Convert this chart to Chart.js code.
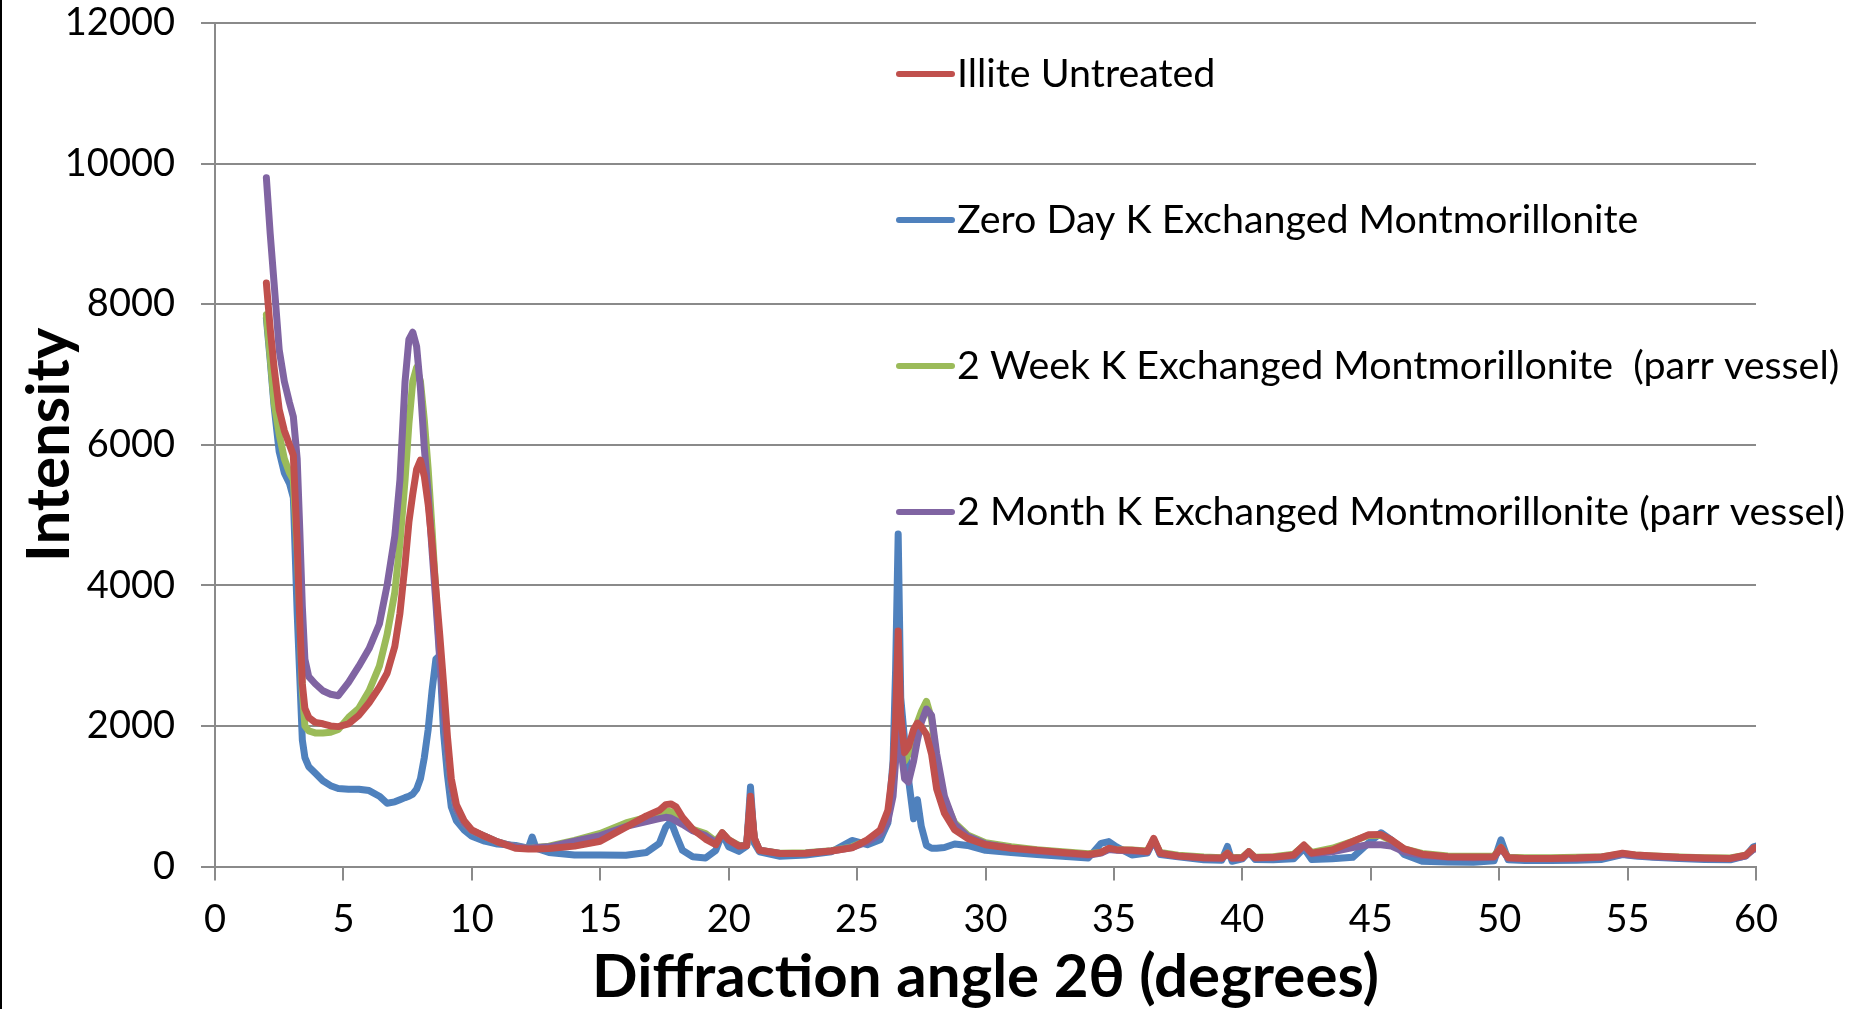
<!DOCTYPE html>
<html><head><meta charset="utf-8">
<script src="https://cdn.jsdelivr.net/npm/chart.js@4.4.1/dist/chart.umd.min.js"></script>
<style>html,body{margin:0;padding:0;background:#fff;}canvas{display:block;}</style>
</head><body>
<canvas id="c" width="1872" height="1009" style="width:1872px;height:1009px"></canvas>
<script>
// Diffraction angle 2θ (degrees)
const angles = [
 2.0,2.15,2.3,2.5,2.7,2.9,3.05,3.2,3.3,3.4,3.5,3.65,3.9,4.2,4.5,4.8,5.2,5.6,6.0,6.4,
 6.7,7.0,7.2,7.4,7.55,7.7,7.85,8.0,8.15,8.3,8.45,8.6,8.75,8.9,9.05,9.2,9.4,9.7,10.0,10.5,
 11.0,11.7,12.2,12.35,12.5,13.0,14.0,15.0,16.0,16.8,17.3,17.55,17.75,17.95,18.2,18.6,19.1,19.5,19.75,20.0,
 20.4,20.7,20.85,21.0,21.2,22.0,23.0,24.0,24.8,25.4,25.9,26.2,26.4,26.5,26.6,26.7,26.85,27.0,27.2,27.35,
 27.5,27.7,27.9,28.1,28.4,28.8,29.3,30.0,31.0,32.0,33.0,34.0,34.5,34.8,35.1,35.7,36.3,36.55,36.8,37.5,
 38.5,39.2,39.42,39.6,40.0,40.25,40.5,41.2,42.0,42.4,42.7,43.5,44.3,44.9,45.4,45.8,46.3,47.0,48.0,49.0,
 49.8,50.07,50.35,51.0,52.0,53.0,54.0,54.8,55.3,56.0,57.0,58.0,59.0,59.6,59.9,60.0
];
const illiteUntreated = [
 8300,7650,7100,6500,6200,6000,5850,4600,3500,2600,2250,2120,2050,2030,2000,1990,2030,2150,2330,2550,
 2750,3130,3600,4300,4900,5300,5650,5780,5550,5150,4600,3950,3300,2600,1850,1250,880,650,520,430,
 350,260,250,250,250,255,290,360,560,720,800,880,890,850,700,530,390,310,480,380,
 290,300,1000,400,230,185,190,220,265,380,520,800,1400,2100,3350,2150,1620,1700,1950,2040,
 1990,1880,1600,1100,760,520,400,310,260,230,200,170,200,260,240,230,215,400,190,150,
 125,120,190,120,125,210,125,130,165,305,190,235,355,450,455,380,250,175,140,135,
 140,270,125,115,115,120,135,190,165,150,130,120,115,160,260,270
];
const zeroDayK = [
 7800,7200,6550,5900,5600,5450,5250,3600,2700,1800,1550,1420,1330,1220,1150,1110,1100,1100,1080,1000,
 900,920,950,980,1000,1030,1100,1250,1550,1950,2500,2950,3000,1900,1300,850,650,520,430,360,
 320,300,260,420,260,200,165,165,160,200,330,560,640,450,230,140,120,230,470,280,
 215,290,1130,330,210,145,165,210,370,310,380,620,1500,2800,4730,2400,1800,1250,680,950,
 570,300,260,260,270,320,300,230,200,170,145,120,330,355,280,165,190,380,170,140,
 95,90,285,75,110,210,100,95,110,260,100,110,130,330,480,380,170,75,65,60,
 80,380,95,85,85,90,100,170,150,130,115,100,95,150,280,290
];
const twoWeekK = [
 7850,7250,6600,6150,5800,5600,5500,4500,3600,2500,2000,1930,1900,1900,1910,1950,2120,2250,2500,2850,
 3300,3900,4600,5500,6300,6900,7100,6900,6350,5650,4800,3900,3000,2350,1650,1150,820,620,510,430,
 350,280,260,260,270,290,370,470,620,700,760,790,780,740,650,530,470,360,480,380,
 300,300,950,400,230,190,195,225,280,370,500,720,1100,1700,3100,1900,1500,1600,1850,2050,
 2200,2350,2100,1500,950,620,450,340,280,240,210,180,200,250,240,235,220,380,200,160,
 135,125,190,125,130,210,130,140,175,300,200,260,360,440,440,370,250,185,150,145,
 150,270,130,125,125,130,140,180,165,150,135,125,120,160,250,260
];
const twoMonthK = [
 9800,9000,8300,7350,6900,6600,6400,5800,4800,3700,2950,2700,2600,2500,2450,2430,2620,2850,3100,3450,
 4000,4700,5500,6900,7500,7600,7400,6800,5950,5300,4500,3750,2950,2250,1650,1150,820,620,510,430,
 350,280,260,260,270,280,360,440,570,640,680,700,690,650,600,510,440,340,470,370,
 290,300,950,400,230,185,190,220,270,350,460,650,1000,1500,3000,1700,1250,1200,1500,1800,
 2050,2240,2150,1600,1000,600,430,320,260,220,190,160,190,240,230,220,205,370,185,145,
 120,115,180,115,120,200,120,125,155,290,180,210,270,310,310,290,210,160,130,125,
 130,260,120,110,110,115,130,175,155,140,125,115,110,150,245,250
];
const seriesLabels = [
 'Illite Untreated',
 'Zero Day K Exchanged Montmorillonite',
 '2 Week K Exchanged Montmorillonite  (parr vessel)',
 '2 Month K Exchanged Montmorillonite (parr vessel)'
];
const seriesValues = [illiteUntreated, zeroDayK, twoWeekK, twoMonthK];
const seriesColors = ['#C0504D', '#4F81BD', '#9BBB59', '#8064A2'];
const seriesDrawOrder = [0, 3, 2, 1];
const xTickValues = [0,5,10,15,20,25,30,35,40,45,50,55,60];
const yTickValues = [0,2000,4000,6000,8000,10000,12000];
const xTitle = 'Diffraction angle 2θ (degrees)';
const yTitle = 'Intensity';

const GRID = '#8a8a8a';

const overlay = {
  id: 'overlay',
  afterDatasetsDraw(chart, args, o) {
    const ctx = chart.ctx;
    ctx.save();
    ctx.fillStyle = '#000';
    ctx.fillRect(0, 0, 2, chart.height);
    ctx.font = o.font;
    ctx.textBaseline = 'middle';
    ctx.textAlign = 'left';
    chart.data.datasets.forEach((ds, i) => {
      const y = o.rowY0 + i * o.rowGap;
      ctx.strokeStyle = ds.borderColor;
      ctx.lineWidth = 6;
      ctx.lineCap = 'round';
      ctx.beginPath(); ctx.moveTo(o.markX0, y); ctx.lineTo(o.markX1, y); ctx.stroke();
      ctx.fillStyle = '#000';
      ctx.fillText(ds.label, o.textX, y);
    });
    ctx.restore();
  }
};

function draw() {
  const datasets = seriesLabels.map((label, s) => ({
    label,
    data: angles.map((a, i) => ({ x: a, y: seriesValues[s][i] })),
    borderColor: seriesColors[s],
    backgroundColor: seriesColors[s],
    borderWidth: 7,
    pointRadius: 0,
    tension: 0,
    fill: false,
    order: seriesDrawOrder[s],
    borderJoinStyle: 'round',
    borderCapStyle: 'round'
  }));
  new Chart(document.getElementById('c'), {
    type: 'line',
    data: { datasets },
    plugins: [overlay],
    options: {
      responsive: false,
      animation: false,
      devicePixelRatio: 1,
      layout: { padding: { top: 23, right: 116, left: 0, bottom: 0 } },
      plugins: {
        legend: { display: false },
        tooltip: { enabled: false },
        overlay: { font: '39.4px Lato', rowY0: 74, rowGap: 146, markX0: 899, markX1: 952, textX: 957 }
      },
      scales: {
        x: {
          type: 'linear', min: 0, max: 60,
          afterBuildTicks(s) { s.ticks = xTickValues.map(v => ({ value: v })); },
          afterFit(s) { s.height = 142.5; s.paddingLeft = 0; s.paddingRight = 0; },
          ticks: { font: { family: 'Lato', size: 38 }, color: '#000', padding: 16, maxRotation: 0, autoSkip: false, callback: v => String(v) },
          grid: { drawOnChartArea: false, drawTicks: true, tickLength: 14, color: GRID, lineWidth: 2 },
          border: { display: true, color: GRID, width: 2 },
          title: { display: true, text: xTitle, color: '#000', font: { family: 'Lato', size: 60, weight: 'bold', lineHeight: 1 }, padding: { top: 0, bottom: 1 } }
        },
        y: {
          type: 'linear', min: 0, max: 12000,
          afterBuildTicks(s) { s.ticks = yTickValues.map(v => ({ value: v })); },
          afterFit(s) { s.width = 215; s.paddingTop = 0; s.paddingBottom = 0; },
          ticks: { font: { family: 'Lato', size: 38 }, color: '#000', padding: 26, callback: v => String(v) },
          grid: { drawTicks: true, tickLength: 14, color: GRID, lineWidth: 2 },
          border: { display: true, color: GRID, width: 2 },
          title: { display: true, text: yTitle, color: '#000', font: { family: 'Lato', size: 60, weight: 'bold', lineHeight: 1 }, padding: { top: 20, bottom: 0 } }
        }
      }
    }
  });
}
Promise.all([document.fonts.load('38px Lato'), document.fonts.load('bold 60px Lato')]).then(draw, draw);
</script>
</body></html>
